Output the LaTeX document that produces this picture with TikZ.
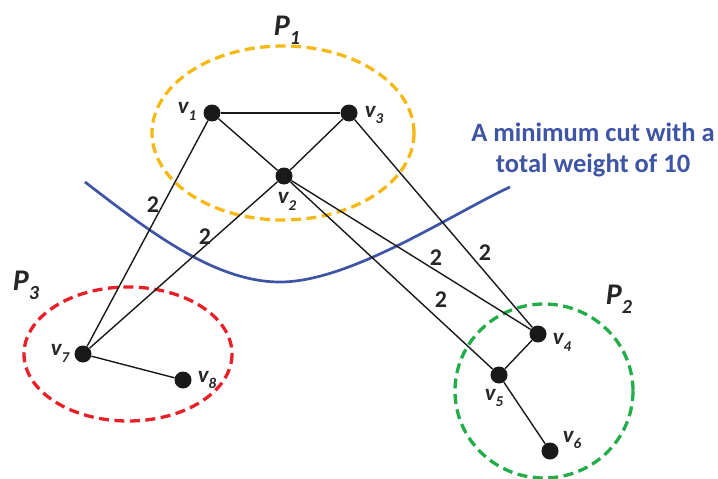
\documentclass[tikz,border=0pt]{standalone}
\usepackage{fontspec}
\setmainfont{Carlito}
\newcommand{\vsub}[1]{\raisebox{-0.3em}{\fontsize{15}{15}\selectfont #1}}
\newcommand{\psub}[1]{\raisebox{-0.3em}{\fontsize{20}{20}\selectfont #1}}
\begin{document}
\begin{tikzpicture}[x=1pt,y=-1pt,
  dot/.style={circle,fill=black!90,inner sep=0pt,minimum size=17pt},
  edge/.style={draw=black!90,line width=1.4pt},
  part/.style={line width=3.3pt,dash pattern=on 10pt off 5.5pt},
  vl/.style={font=\bfseries\itshape\fontsize{23}{23}\selectfont,text=black!85,inner sep=0pt},
  wl/.style={font=\bfseries\fontsize{24}{24}\selectfont,text=black!85,inner sep=0pt},
  pl/.style={font=\bfseries\itshape\fontsize{30}{30}\selectfont,text=black!85,inner sep=0pt}]
\definecolor{cyel}{RGB}{246,184,20}
\definecolor{cred}{RGB}{232,32,40}
\definecolor{cgrn}{RGB}{34,172,74}
\definecolor{cblu}{RGB}{62,84,164}
\useasboundingbox (0,0) rectangle (718,479);
% partitions
\draw[part,cyel] (283,133) ellipse [x radius=131,y radius=87];
\draw[part,cred] (128,354) ellipse [x radius=104,y radius=67];
\draw[part,cgrn] (544,391) ellipse [x radius=89,y radius=87];
% cut
\coordinate (c1) at (85,182);
\coordinate (c2) at (280,282);
\coordinate (c3) at (510,187);
\draw[cblu,line width=2.7pt] (c1) .. controls (150,232) and (215,282) .. (c2)
  .. controls (350,282) and (450,215) .. (c3);
% nodes
\node[dot] (v1) at (212,113) {};
\node[dot] (v3) at (349,113) {};
\node[dot] (v2) at (284,176) {};
\node[dot] (v7) at (83,354) {};
\node[dot] (v8) at (183,380) {};
\node[dot] (v4) at (538,334) {};
\node[dot] (v5) at (499,375) {};
\node[dot] (v6) at (550,451) {};
% edges
\draw[edge] (v1) -- (v3);
\draw[edge] (v1) -- (v2);
\draw[edge] (v3) -- (v2);
\draw[edge] (v1) -- (v7);
\draw[edge] (v2) -- (v7);
\draw[edge] (v7) -- (v8);
\draw[edge] (v2) -- (v4);
\draw[edge] (v2) -- (v5);
\draw[edge] (v3) -- (v4);
\draw[edge] (v4) -- (v5);
\draw[edge] (v5) -- (v6);
% vertex labels
\node[vl] (l1) at (187,111) {v\vsub{1}};
\node[vl] (l3) at (374,115) {v\vsub{3}};
\node[vl] (l2) at (287,201) {v\vsub{2}};
\node[vl] (l7) at (60,353) {v\vsub{7}};
\node[vl] (l8) at (207,380) {v\vsub{8}};
\node[vl] (l4) at (562,342) {v\vsub{4}};
\node[vl] (l5) at (494,398) {v\vsub{5}};
\node[vl] (l6) at (572,440) {v\vsub{6}};
% weights
\node[wl] (w1) at (153,205) {2};
\node[wl] (w2) at (205,237) {2};
\node[wl] (w3) at (436,258) {2};
\node[wl] (w4) at (485,253) {2};
\node[wl] (w5) at (441,300) {2};
% partition labels
\node[pl] (p1) at (287,30) {P\psub{1}};
\node[pl] (p2) at (619,299) {P\psub{2}};
\node[pl] (p3) at (26,285) {P\psub{3}};
% cut label
\node[font=\bfseries\fontsize{26.5}{31}\selectfont,text=cblu,align=center] (cut) at (593,150) {A minimum cut with a\\total weight of 10};
\end{tikzpicture}
\end{document}
